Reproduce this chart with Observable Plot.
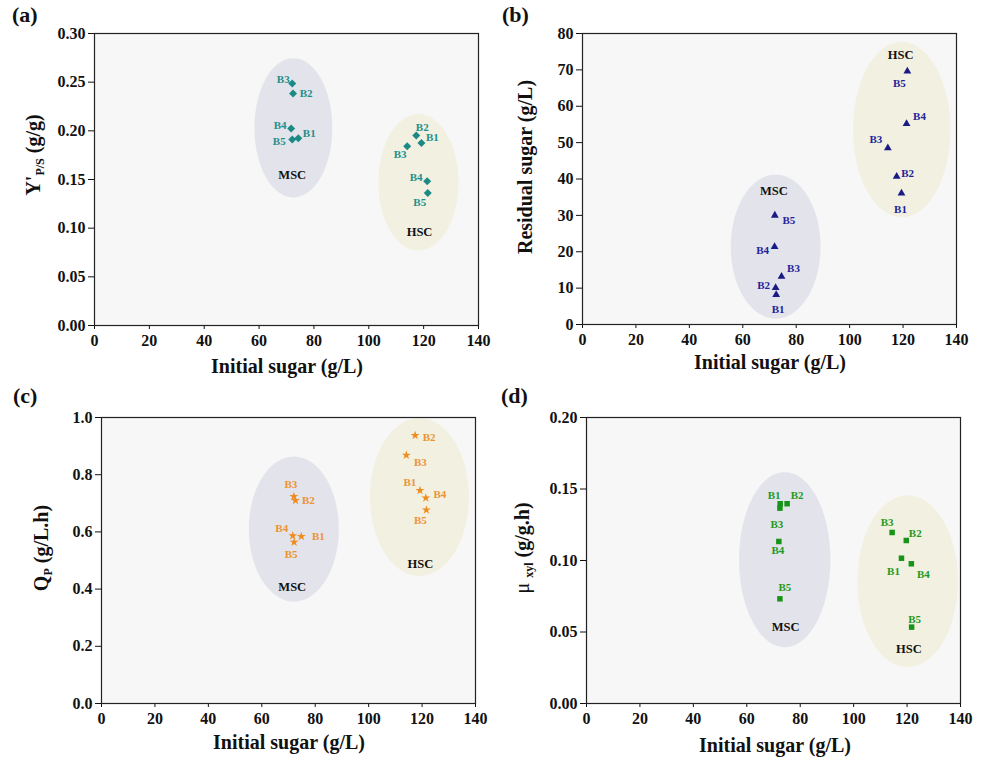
<!DOCTYPE html>
<html>
<head>
<meta charset="utf-8">
<script src="https://cdn.jsdelivr.net/npm/d3@7"></script>
<script src="https://cdn.jsdelivr.net/npm/@observablehq/plot@0.6"></script>
<style>
  html, body { margin: 0; padding: 0; background: #fff; }
  #page { position: relative; width: 981px; height: 757px; overflow: hidden; background: #fff;
          font-family: "Liberation Serif", "Times New Roman", serif; font-weight: bold; color: #111; }
  .panel { position: absolute; }
  .panel svg { overflow: visible; }
  .panel svg g[aria-label$="tick label"] text { font-size: 16px; font-weight: bold; }
  .lbl { position: absolute; white-space: nowrap; font-weight: bold; color: #111; }
  .xt { font-size: 20px; transform: translate(-50%, -50%); }
  .yt { font-size: 20px; transform: translate(-50%, -50%) rotate(-90deg); }
  .yt sub { font-size: 12px; vertical-align: -4px; }
  .tag { font-size: 22px; }
</style>
</head>
<body>
<div id="page"></div>
<script>
// ---------- data ----------
const batches = ["B1", "B2", "B3", "B4", "B5"];
const groups = ["MSC", "HSC"];
const xTicks = [0, 20, 40, 60, 80, 100, 120, 140];

// (a) Y'P/S (g/g)
const aYTicks = [0, 0.05, 0.10, 0.15, 0.20, 0.25, 0.30];
const aMscX = [74.3, 72.4, 72.1, 71.7, 72.1];
const aMscY = [0.1923, 0.2383, 0.2486, 0.2023, 0.1910];
const aHscX = [119.2, 117.3, 114.0, 121.3, 121.5];
const aHscY = [0.1875, 0.1951, 0.1841, 0.1481, 0.1361];

// (b) Residual sugar (g/L)
const bYTicks = [0, 10, 20, 30, 40, 50, 60, 70, 80];
const bMscX = [72.5, 72.3, 74.5, 71.9, 72.0];
const bMscY = [8.2, 10.1, 13.2, 21.4, 30.0];
const bHscX = [119.4, 117.6, 114.3, 121.3, 121.6];
const bHscY = [36.1, 40.7, 48.5, 55.2, 69.6];

// (c) QP (g/L.h)
const cYTicks = [0, 0.2, 0.4, 0.6, 0.8, 1.0];
const cMscX = [74.8, 72.6, 72.0, 71.6, 72.1];
const cMscY = [0.584, 0.710, 0.724, 0.587, 0.564];
const cHscX = [119.2, 117.4, 114.1, 121.4, 121.6];
const cHscY = [0.745, 0.937, 0.868, 0.719, 0.677];

// (d) mu xyl (g/g.h)
const dYTicks = [0, 0.05, 0.10, 0.15, 0.20];
const dMscX = [72.5, 75.1, 72.4, 72.0, 72.4];
const dMscY = [0.1397, 0.1397, 0.1366, 0.1133, 0.0732];
const dHscX = [117.9, 119.7, 114.4, 121.6, 121.7];
const dHscY = [0.1016, 0.1140, 0.1196, 0.0977, 0.0534];

// group ellipses (data units): [cx, cy, rx, ry] for MSC, HSC
const aEllipses = [[72.5, 0.2031, 14.2, 0.0715], [118.1, 0.1471, 14.6, 0.0700]];
const bEllipses = [[72.3, 21.4, 16.8, 19.8], [119.5, 53.6, 18.2, 24.1]];
const cEllipses = [[72.0, 0.610, 16.85, 0.2535], [119.0, 0.722, 18.5, 0.276]];
const dEllipses = [[74.2, 0.1006, 17.1, 0.0612], [120.2, 0.0855, 18.8, 0.0600]];

// group name positions (data units)
const aGroupPos = [[72.1, 0.1543], [118.5, 0.096]];
const bGroupPos = [[71.6, 36.8], [119.1, 74.0]];
const cGroupPos = [[71.4, 0.4066], [119.4, 0.4885]];
const dGroupPos = [[74.5, 0.0534], [120.7, 0.0383]];

// ---------- layout (label offsets in px, B1..B5) ----------
const aMscOff = [[11,-5],[13,0],[-9,-4],[-11,-3],[-13,2]];
const aHscOff = [[11,-6],[6,-8],[-7,8],[-11,-4],[-8,9]];
const bMscOff = [[2,15],[-12,-2],[12,-8],[-12,4],[14,5]];
const bHscOff = [[-1,16],[11,-3],[-12,-9],[13,-7],[-8,12]];
const cMscOff = [[17,0],[13,0],[-3,-12],[-11,-7],[-3,12]];
const cHscOff = [[-10,-8],[14,2],[14,7],[14,-3],[-6,11]];
const dMscOff = [[-6,-8],[10,-8],[-3,16],[-1,9],[5,-11]];
const dHscOff = [[-8,13],[9,-7],[-5,-10],[12,11],[3,-8]];

const ellipseFills = ["#e3e3eb", "#f2f0e0"];
const fontFamily = "'Liberation Serif', 'Times New Roman', serif";

function rows(xs, ys, group) {
  return batches.map((b, i) => ({batch: b, x: xs[i], y: ys[i], group}));
}
function ellipsePts(e, g) {
  const [cx, cy, rx, ry] = e;
  return d3.range(97).map(i => {
    const t = i / 96 * 2 * Math.PI;
    return {x: cx + rx * Math.cos(t), y: cy + ry * Math.sin(t), g};
  });
}

function makePanel(cfg) {
  const pts = [...rows(cfg.mscX, cfg.mscY, "MSC"), ...rows(cfg.hscX, cfg.hscY, "HSC")];
  const offs = [...cfg.mscOff, ...cfg.hscOff];
  const labelMarks = pts.map((p, i) => Plot.text([p], {
    x: "x", y: "y", text: "batch", dx: offs[i][0], dy: offs[i][1],
    fill: cfg.labelColor, fontSize: 11, fontWeight: "bold"
  }));
  const ellMarks = cfg.ellipses.map((e, i) => Plot.line(ellipsePts(e, groups[i]), {
    x: "x", y: "y", fill: ellipseFills[i], stroke: "none", curve: "linear-closed"
  }));
  const groupData = groups.map((g, i) => ({g, x: cfg.groupPos[i][0], y: cfg.groupPos[i][1]}));
  return Plot.plot({
    width: cfg.width, height: cfg.height,
    marginLeft: cfg.ml, marginRight: cfg.mr, marginTop: cfg.mt, marginBottom: cfg.mb,
    x: {domain: [0, 140]},
    y: {domain: [0, cfg.yMax]},
    style: {fontFamily, fontWeight: "bold", fontSize: "16px", color: "#111", background: "transparent", overflow: "visible"},
    marks: [
      Plot.frame({fill: "#f7f7f7", stroke: "none"}),
      ...ellMarks,
      Plot.text(groupData, {x: "x", y: "y", text: "g", fill: "#111", fontSize: 12.5, fontWeight: "bold"}),
      Plot.dot(pts, {x: "x", y: "y", symbol: () => cfg.symbol, r: cfg.r, fill: cfg.color, stroke: "none"}),
      ...labelMarks,
      Plot.axisX({ticks: xTicks, tickSize: 4, tickPadding: 5, label: null, fontSize: 16, fontWeight: "bold", tickFormat: d => String(d)}),
      Plot.axisY({ticks: cfg.yTicks, tickSize: 6, tickPadding: 3, label: null, fontSize: 16, fontWeight: "bold", tickFormat: cfg.fmt}),
      Plot.frame({stroke: "#222", strokeWidth: 1.2})
    ]
  });
}

const page = document.getElementById("page");
function place(node, left, top) {
  const d = document.createElement("div");
  d.className = "panel";
  d.style.left = left + "px";
  d.style.top = top + "px";
  d.appendChild(node);
  page.appendChild(d);
}
function label(html, cls, x, y) {
  const d = document.createElement("div");
  d.className = "lbl " + cls;
  d.style.left = x + "px";
  d.style.top = y + "px";
  d.innerHTML = html;
  page.appendChild(d);
}

place(makePanel({
  width: 490, height: 378, ml: 94, mr: 12, mt: 33, mb: 53,
  yMax: 0.30, yTicks: aYTicks, fmt: d => d.toFixed(2),
  mscX: aMscX, mscY: aMscY, hscX: aHscX, hscY: aHscY,
  mscOff: aMscOff, hscOff: aHscOff, ellipses: aEllipses, groupPos: aGroupPos,
  symbol: "diamond2", r: 3.6, color: "#1b8a85", labelColor: "#1f8f8a"
}), 0, 0);

place(makePanel({
  width: 491, height: 378, ml: 92, mr: 25, mt: 33, mb: 54,
  yMax: 80, yTicks: bYTicks, fmt: d => String(d),
  mscX: bMscX, mscY: bMscY, hscX: bHscX, hscY: bHscY,
  mscOff: bMscOff, hscOff: bHscOff, ellipses: bEllipses, groupPos: bGroupPos,
  symbol: "triangle", r: 2.9, color: "#1b1b86", labelColor: "#23239a"
}), 490, 0);

place(makePanel({
  width: 490, height: 379, ml: 101, mr: 15, mt: 39, mb: 54,
  yMax: 1.0, yTicks: cYTicks, fmt: d => d.toFixed(1),
  mscX: cMscX, mscY: cMscY, hscX: cHscX, hscY: cHscY,
  mscOff: cMscOff, hscOff: cHscOff, ellipses: cEllipses, groupPos: cGroupPos,
  symbol: "star", r: 2.8, color: "#f08c1e", labelColor: "#ec9430"
}), 0, 378);

place(makePanel({
  width: 491, height: 379, ml: 96, mr: 21, mt: 39, mb: 54,
  yMax: 0.20, yTicks: dYTicks, fmt: d => d.toFixed(2),
  mscX: dMscX, mscY: dMscY, hscX: dHscX, hscY: dHscY,
  mscOff: dMscOff, hscOff: dHscOff, ellipses: dEllipses, groupPos: dGroupPos,
  symbol: "square", r: 3.1, color: "#179417", labelColor: "#229a22"
}), 490, 378);

// panel tags
label("(a)", "tag", 12, 2);
label("(b)", "tag", 502, 2);
label("(c)", "tag", 13, 383);
label("(d)", "tag", 501, 383);

// x titles
label("Initial sugar (g/L)", "xt", 287, 366);
label("Initial sugar (g/L)", "xt", 770, 362);
label("Initial sugar (g/L)", "xt", 289, 742);
label("Initial sugar (g/L)", "xt", 775, 745);

// y titles
label("Y'<sub>P/S</sub> (g/g)", "yt", 35, 155);
label("Residual sugar (g/L)", "yt", 525, 167);
label("Q<sub>P</sub> (g/L.h)", "yt", 43, 548);
label("<span style='font-weight:normal'>μ</span> <sub>xyl</sub> (g/g.h)", "yt", 524, 548);
</script>
</body>
</html>
